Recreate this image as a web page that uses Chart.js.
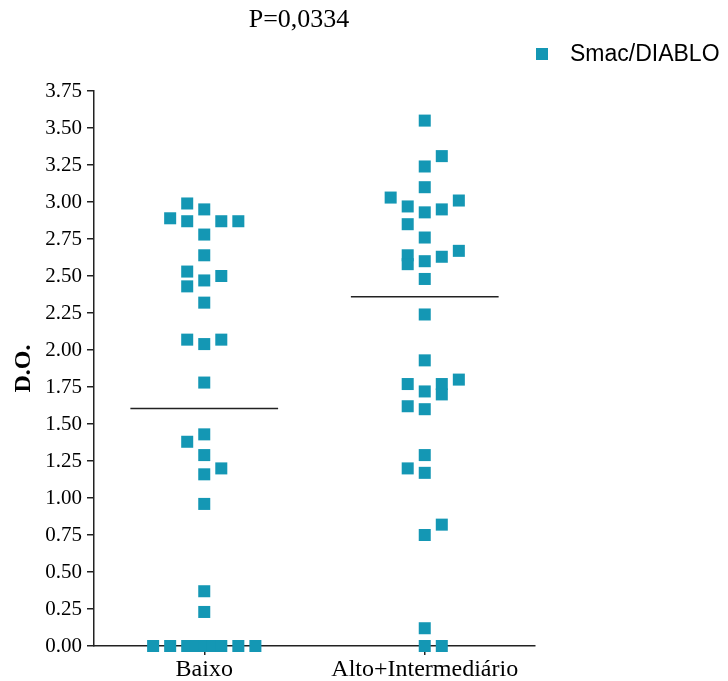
<!DOCTYPE html>
<html>
<head>
<meta charset="utf-8">
<script src="https://cdn.jsdelivr.net/npm/chart.js@4.4.0/dist/chart.umd.min.js"></script>
<style>
  html, body { margin: 0; padding: 0; background: #fff; }
</style>
</head>
<body>
<canvas id="chart" width="728" height="681"></canvas>
<script>
// data
const categories = ['Baixo', 'Alto+Intermediário'];
const seriesName = 'Smac/DIABLO';
const pLabel = 'P=0,0334';
const yTicks = [0, 0.25, 0.5, 0.75, 1, 1.25, 1.5, 1.75, 2, 2.25, 2.5, 2.75, 3, 3.25, 3.5, 3.75];

const baixoValues = [2.99, 2.95, 2.89, 2.87, 2.87, 2.87, 2.78, 2.64, 2.53, 2.47, 2.50, 2.43, 2.32,
  2.07, 2.04, 2.07, 1.78, 1.43, 1.38, 1.29, 1.20, 1.16, 0.96, 0.37, 0.23,
  0, 0, 0, 0, 0, 0, 0, 0, 0];
// column slot of each point in the scatter (prism-style spreading)
const baixoCols = [-1, 0, -2, -1, 1, 2, 0, 0, -1, 0, 1, -1, 0,
  -1, 0, 1, 0, 0, -1, 0, 1, 0, 0, 0, 0,
  -3, -2, -1, -0.5, 0, 0.5, 1, 2, 3];

const altoValues = [3.55, 3.31, 3.24, 3.10, 3.03, 3.01, 2.97, 2.93, 2.95, 2.85, 2.76, 2.64, 2.58,
  2.60, 2.63, 2.67, 2.48, 2.24, 1.93, 1.77, 1.80, 1.77, 1.70, 1.72, 1.62, 1.60,
  1.29, 1.20, 1.17, 0.82, 0.75, 0.12, 0, 0];
const altoCols = [0, 1, 0, 0, -2, 2, -1, 0, 1, -1, 0, -1, -1,
  0, 1, 2, 0, 0, 0, -1, 2, 1, 1, 0, -1, 0,
  0, -1, 0, 1, 0, 0, 0, 1];

const groups = [
  { values: baixoValues, cols: baixoCols },
  { values: altoValues, cols: altoCols }
];

const COLOR = '#1497b4';
const COL_STEP = 0.0773;
const HALF_LINE = 0.335;

function median(arr){
  const s = arr.slice().sort((a,b)=>a-b);
  const m = Math.floor(s.length/2);
  return s.length % 2 ? s[m] : (s[m-1] + s[m]) / 2;
}

const points = [];
groups.forEach((g, i) => {
  g.values.forEach((v, j) => points.push({ x: i + 1 + g.cols[j] * COL_STEP, y: v }));
});

const medianSets = groups.map((g, i) => {
  const m = median(g.values);
  return {
    type: 'line',
    data: [{ x: i + 1 - HALF_LINE, y: m }, { x: i + 1 + HALF_LINE, y: m }],
    borderColor: '#222',
    borderWidth: 1.5,
    pointRadius: 0,
    showLine: true,
    clip: false
  };
});

const extraText = {
  id: 'extraText',
  afterDraw(chart){
    const ctx = chart.ctx;
    ctx.save();
    ctx.fillStyle = '#000';
    ctx.textBaseline = 'middle';
    ctx.textAlign = 'center';
    ctx.font = '26px "Liberation Serif"';
    ctx.fillText(pLabel, 299, 20);

    ctx.fillStyle = COLOR;
    ctx.fillRect(536, 48, 12, 12);
    ctx.fillStyle = '#000';
    ctx.textAlign = 'left';
    ctx.font = '23px "Liberation Sans"';
    ctx.fillText(seriesName, 570, 55);

    const a = chart.chartArea;
    ctx.translate(24, (a.top + a.bottom) / 2);
    ctx.rotate(-Math.PI / 2);
    ctx.textAlign = 'center';
    ctx.font = 'bold 24px "Liberation Serif"';
    ctx.fillText('D.O.', 0, 0);
    ctx.restore();
  }
};

new Chart(document.getElementById('chart'), {
  type: 'scatter',
  data: {
    datasets: [{
      label: seriesName,
      data: points,
      backgroundColor: COLOR,
      borderWidth: 0,
      pointStyle: 'rect',
      pointRadius: 8.5,
      pointHoverRadius: 8.5,
      clip: false
    }, ...medianSets]
  },
  options: {
    responsive: false,
    animation: false,
    layout: { padding: { top: 91, right: 193, bottom: 0, left: 0 } },
    plugins: { legend: { display: false }, title: { display: false }, tooltip: { enabled: false } },
    scales: {
      x: {
        type: 'linear',
        min: 0.5,
        max: 2.5,
        afterBuildTicks: s => { s.ticks = [{ value: 1 }, { value: 2 }]; },
        afterFit: s => { s.height = 35; },
        ticks: {
          callback: v => categories[v - 1],
          color: '#000',
          font: { family: '"Liberation Serif"', size: 24 },
          padding: 0,
          maxRotation: 0
        },
        grid: { drawOnChartArea: false, drawTicks: true, tickLength: 9, color: '#222', lineWidth: 1.5 },
        border: { display: true, color: '#222', width: 1.5 }
      },
      y: {
        min: 0,
        max: 3.75,
        afterBuildTicks: s => { s.ticks = yTicks.map(v => ({ value: v })); },
        afterFit: s => { s.width = 94; },
        ticks: {
          callback: v => v.toFixed(2),
          color: '#000',
          font: { family: '"Liberation Serif"', size: 21 },
          padding: 5
        },
        grid: { drawOnChartArea: false, drawTicks: true, tickLength: 7, color: '#222', lineWidth: 1.5 },
        border: { display: true, color: '#222', width: 1.5 }
      }
    }
  },
  plugins: [extraText]
});
</script>
</body>
</html>
